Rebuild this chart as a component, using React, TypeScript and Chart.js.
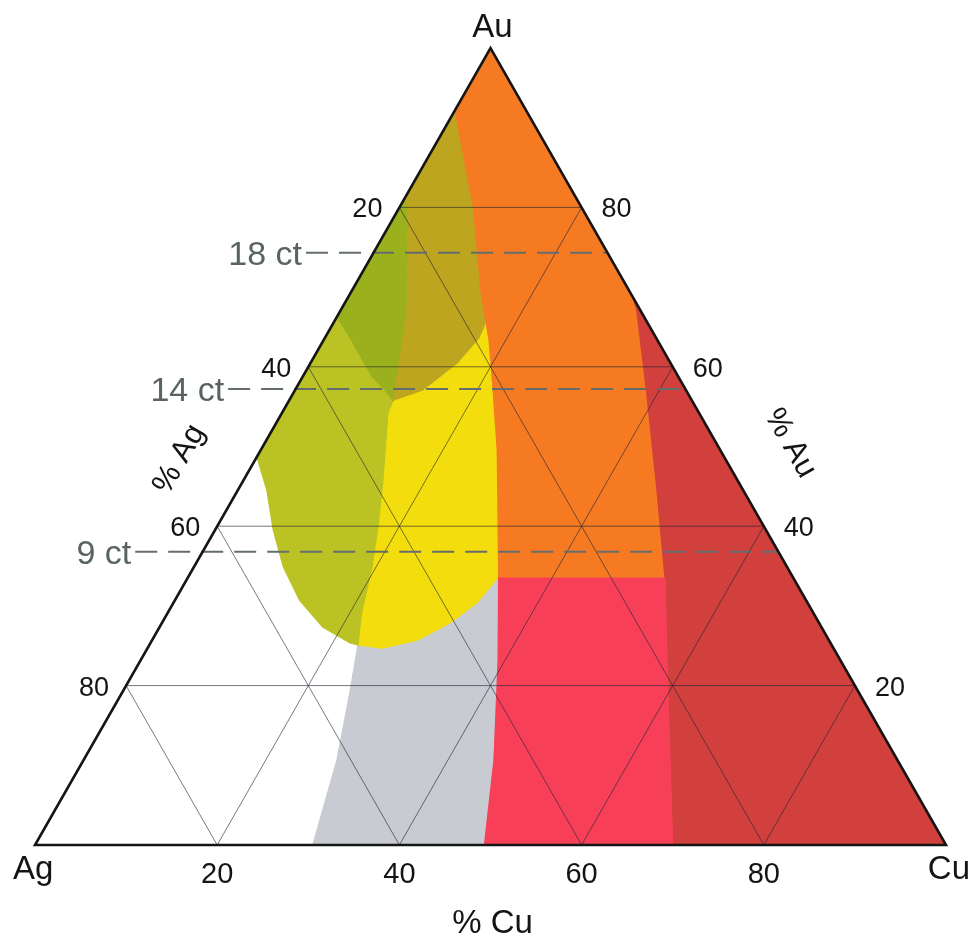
import React, { useEffect, useRef } from 'react';
import { Chart, registerables } from 'chart.js';

Chart.register(...registerables);

// Ternary points are [Cu %, Au %]; Ag % = 100 - Cu - Au
const cuTicks = [20, 40, 60, 80];
const agTicks = [20, 40, 60, 80];
const auTicks = [20, 40, 60, 80];
const gridLevels = [20, 40, 60, 80];

const karatLabels = ['18 ct', '14 ct', '9 ct'];
const karatAu = [74.3, 57.2, 36.8];

// Region boundary curves
const orangeLeftEdge = [[0, 92], [8, 80], [14, 69.6], [16.7, 65.4], [18, 63.4], [21.6, 57.1], [25.8, 49.6], [30.3, 40.8], [34, 33.5]];
const redUpperEdge = [[31.3, 68.7], [32.5, 67.1], [38.8, 56.7], [46.2, 44.2], [52.4, 33.5]];
const redLowerEdge = [[52.4, 33.5], [60.4, 18.2], [70, 0]];
const pinkLeftEdge = [[34, 33.5], [39.1, 23.2], [44.9, 10.7], [49.2, 0]];
const goldBottomEdge = [[34, 33.5], [33.3, 30.4], [31.6, 27.85], [29.1, 25.7], [25.8, 24.7], [22.9, 25.1]];
const grayLeftEdge = [[22.9, 25.1], [25.0, 19.1], [27.8, 10.7], [30.5, 0]];
const greenOuterEdge = [[0, 48.7], [3.2, 44.5], [6.4, 39.5], [9.8, 34.9], [13.7, 30.7], [17.9, 27.35], [21.9, 25.35], [22.9, 25.1]];
const greenYellowDivider = [[22.9, 25.1], [21.3, 29.1], [19.55, 34.9], [17.7, 39.9], [15.3, 45.8], [11.65, 54.2], [11.4, 55.8]];
const oliveBottomEdge = [[11.4, 55.8], [14.0, 57.1], [16.1, 60.5], [16.9, 63.6], [16.7, 65.4]];
const darkGreenLowerEdge = [[11.4, 55.8], [9.6, 57.3], [7.7, 58.7], [3.4, 63.0], [0, 66.3]];
const oliveGreenDivider = [[0, 81.2], [0.9, 80], [4.05, 73.8], [7.1, 67.5], [9.5, 61.2], [11.4, 55.8]];

const oliveYellowJoinAu = 65.4;

const regionColors = {
  orange: '#F67A21',
  darkRed: '#D1403C',
  pink: '#F74058',
  gray: '#C9CBD3',
  yellow: '#F4DD0C',
  yellowGreen: '#BBC324',
  darkGreen: '#9AB11D',
  olive: '#BDA51F',
};

type P = number[];
const rev = (a: P[]) => [...a].reverse();
const toXY = (p: P) => ({ x: p[0] + p[1] / 2, y: p[1] });

function buildRegions() {
  const orange = [[0, 100], ...orangeLeftEdge, ...rev(redUpperEdge)];
  const darkRed = [...redUpperEdge, ...redLowerEdge.slice(1), [100, 0]];
  const pink = [[34, 33.5], ...redLowerEdge, ...rev(pinkLeftEdge).slice(0, -1)];
  const gray = [...goldBottomEdge, ...grayLeftEdge.slice(1), ...rev(pinkLeftEdge).slice(0, -1)];
  const yellow = [
    ...oliveBottomEdge,
    ...orangeLeftEdge.filter((p) => p[1] < oliveYellowJoinAu),
    ...goldBottomEdge.slice(1),
    ...greenYellowDivider.slice(1, -1),
  ];
  const yellowGreen = [...greenOuterEdge, ...greenYellowDivider.slice(1), ...darkGreenLowerEdge.slice(1)];
  const darkGreen = [...oliveGreenDivider, ...darkGreenLowerEdge.slice(1)];
  const olive = [
    ...orangeLeftEdge.filter((p) => p[1] > oliveYellowJoinAu),
    ...rev(oliveBottomEdge),
    ...rev(oliveGreenDivider).slice(1),
  ];
  return [
    ['orange', orange],
    ['darkRed', darkRed],
    ['pink', pink],
    ['gray', gray],
    ['yellow', yellow],
    ['yellowGreen', yellowGreen],
    ['darkGreen', darkGreen],
    ['olive', olive],
  ] as [keyof typeof regionColors, P[]][];
}

const FONT = '"Liberation Sans", Arial, Helvetica, sans-serif';
const KARAT_LEAD = 7.4;

const labelsPlugin = {
  id: 'ternaryLabels',
  afterDatasetsDraw(chart: any) {
    const { ctx } = chart;
    const xs = chart.scales.x;
    const ys = chart.scales.y;
    const px = (cu: number, au: number) => [xs.getPixelForValue(cu + au / 2), ys.getPixelForValue(au)];
    ctx.save();
    ctx.fillStyle = '#141414';

    // bottom % Cu ticks
    ctx.font = `29px ${FONT}`;
    ctx.textAlign = 'center';
    ctx.textBaseline = 'alphabetic';
    cuTicks.forEach((c) => {
      const [x, y] = px(c, 0);
      ctx.fillText(String(c), x, y + 38);
    });

    // left % Ag ticks
    ctx.font = `27px ${FONT}`;
    ctx.textAlign = 'right';
    agTicks.forEach((a) => {
      const [x, y] = px(0, 100 - a);
      ctx.fillText(String(a), x - 17, y + 10);
    });

    // right % Au ticks
    ctx.textAlign = 'left';
    auTicks.forEach((t) => {
      const [x, y] = px(100 - t, t);
      ctx.fillText(String(t), x + 20, y + 10);
    });

    // vertex labels
    ctx.font = `33px ${FONT}`;
    const [axAu, ayAu] = px(0, 100);
    ctx.textAlign = 'center';
    ctx.fillText('Au', axAu + 2, ayAu - 11);
    const [axAg, ayAg] = px(0, 0);
    ctx.textAlign = 'left';
    ctx.fillText('Ag', axAg - 22, ayAg + 34);
    const [axCu, ayCu] = px(100, 0);
    ctx.textAlign = 'right';
    ctx.fillText('Cu', axCu + 24, ayCu + 34);

    // axis titles
    ctx.textAlign = 'center';
    const [mx, my] = px(50, 0);
    ctx.fillText('% Cu', mx + 2, my + 88);

    ctx.font = `31px ${FONT}`;
    ctx.textBaseline = 'middle';
    ctx.save();
    ctx.translate(xs.getPixelForValue(15.85), ys.getPixelForValue(48.4));
    ctx.rotate(-Math.PI / 3);
    ctx.fillText('% Ag', 0, 0);
    ctx.restore();
    ctx.save();
    ctx.translate(xs.getPixelForValue(82.9), ys.getPixelForValue(50.4));
    ctx.rotate(Math.PI / 3);
    ctx.fillText('% Au', 0, 0);
    ctx.restore();

    // karat labels
    ctx.font = `34px ${FONT}`;
    ctx.fillStyle = '#596363';
    ctx.textAlign = 'right';
    ctx.textBaseline = 'alphabetic';
    karatAu.forEach((au, i) => {
      const x = xs.getPixelForValue(au / 2 - KARAT_LEAD);
      const y = ys.getPixelForValue(au);
      ctx.fillText(karatLabels[i], x - 4, y + 12);
    });
    ctx.restore();
  },
};

export default function App() {
  const ref = useRef<HTMLCanvasElement>(null);

  useEffect(() => {
    const datasets: any[] = [];
    let order = 100;

    buildRegions().forEach(([name, poly]) => {
      const pts = [...poly, poly[0]].map(toXY);
      datasets.push({
        label: name,
        data: pts,
        fill: 'shape',
        backgroundColor: regionColors[name],
        borderColor: regionColors[name],
        borderWidth: 1.2,
        pointRadius: 0,
        tension: 0,
        order: order--,
        clip: false,
      });
    });

    const gridColor = 'rgba(35,35,55,0.62)';
    gridLevels.forEach((g) => {
      const lines = [
        [[0, g], [100 - g, g]],
        [[g, 0], [g, 100 - g]],
        [[100 - g, 0], [0, 100 - g]],
      ];
      lines.forEach((ln) => {
        datasets.push({
          label: 'grid',
          data: ln.map(toXY),
          fill: false,
          borderColor: gridColor,
          borderWidth: 1,
          pointRadius: 0,
          order: 20,
        });
      });
    });

    karatAu.forEach((au, i) => {
      datasets.push({
        label: karatLabels[i],
        data: [
          { x: au / 2 - KARAT_LEAD, y: au },
          { x: 100 - au / 2, y: au },
        ],
        fill: false,
        borderColor: '#646d6d',
        borderWidth: 2,
        borderDash: [22, 11],
        pointRadius: 0,
        order: 10,
        clip: false,
      });
    });

    datasets.push({
      label: 'frame',
      data: [[0, 0], [100, 0], [0, 100], [0, 0], [100, 0]].map(toXY),
      fill: false,
      borderColor: '#151515',
      borderWidth: 2.6,
      borderJoinStyle: 'miter',
      pointRadius: 0,
      order: 1,
      clip: false,
    });

    const chart = new Chart(ref.current as HTMLCanvasElement, {
      type: 'line',
      data: { datasets },
      options: {
        animation: false,
        responsive: false,
        devicePixelRatio: 1,
        events: [],
        layout: { padding: { left: 35, right: 29, top: 48, bottom: 98 } },
        scales: {
          x: { type: 'linear', min: 0, max: 100, display: false },
          y: { type: 'linear', min: 0, max: 100, display: false },
        },
        plugins: {
          legend: { display: false },
          tooltip: { enabled: false },
        },
      },
      plugins: [labelsPlugin],
    } as any);
    return () => chart.destroy();
  }, []);

  return (
    <div style={{ position: 'absolute', left: 0, top: 0, width: 975, height: 943, background: '#fff' }}>
      <canvas ref={ref} width={975} height={943} style={{ display: 'block' }} />
    </div>
  );
}
